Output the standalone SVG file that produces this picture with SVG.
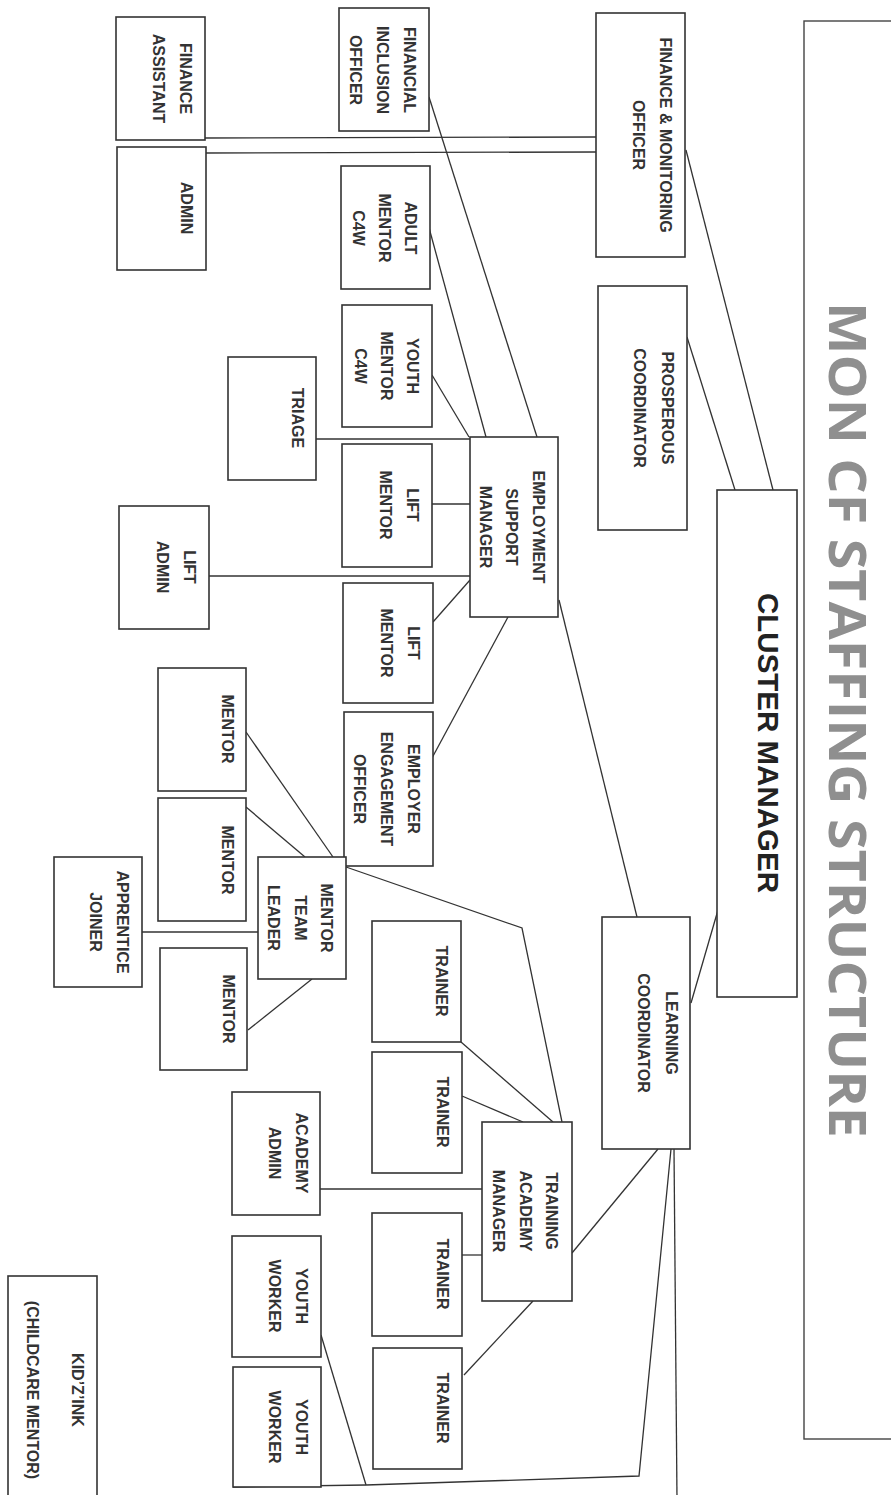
<svg xmlns="http://www.w3.org/2000/svg" width="891" height="1495" viewBox="0 0 891 1495">
<style>
.bx{fill:#fff;stroke:#333;stroke-width:1.6}
.t{font-family:"Liberation Sans",Arial,sans-serif;font-weight:bold;font-size:16px;fill:#333;text-anchor:middle;dominant-baseline:central}
.cm{font-size:30px;fill:#222}
.ttl{font-family:"Open Sans","Liberation Sans",sans-serif;font-weight:700;font-size:52px;fill:#8f8f8f;text-anchor:middle;dominant-baseline:central}
.ln{fill:none;stroke:#333;stroke-width:1.3}
</style>
<rect width="891" height="1495" fill="#fff"/>
<g id="title">
<rect x="804" y="21" width="100" height="1418" fill="#fff" stroke="#444" stroke-width="1.4"/>
<text class="ttl" transform="translate(849,720) rotate(90)" textLength="836" lengthAdjust="spacingAndGlyphs">MON CF STAFFING STRUCTURE</text>
</g>
<g id="connectors">
<line class="ln" x1="596" y1="137" x2="205" y2="138"/>
<line class="ln" x1="596" y1="152" x2="206" y2="153"/>
<line class="ln" x1="686" y1="150" x2="773" y2="490"/>
<line class="ln" x1="687" y1="337" x2="735" y2="490"/>
<line class="ln" x1="429" y1="97" x2="537" y2="437"/>
<line class="ln" x1="428" y1="224" x2="486" y2="437"/>
<line class="ln" x1="432" y1="375" x2="469" y2="437"/>
<line class="ln" x1="316" y1="439" x2="470" y2="439"/>
<line class="ln" x1="432" y1="504" x2="470" y2="504"/>
<line class="ln" x1="209" y1="576" x2="470" y2="576"/>
<line class="ln" x1="433" y1="622" x2="470" y2="580"/>
<line class="ln" x1="508" y1="617" x2="432" y2="758"/>
<line class="ln" x1="559" y1="600" x2="637" y2="917"/>
<line class="ln" x1="718" y1="910" x2="691" y2="1003"/>
<line class="ln" x1="246" y1="732" x2="333" y2="857"/>
<line class="ln" x1="246" y1="807" x2="305" y2="857"/>
<line class="ln" x1="248" y1="1030" x2="312" y2="979"/>
<line class="ln" x1="142" y1="932" x2="258" y2="932"/>
<polyline class="ln" points="346,867 522,928 562,1122"/>
<line class="ln" x1="461" y1="1042" x2="553" y2="1122"/>
<line class="ln" x1="462" y1="1096" x2="523" y2="1122"/>
<line class="ln" x1="658" y1="1149" x2="572" y2="1253"/>
<line class="ln" x1="320" y1="1189" x2="482" y2="1189"/>
<line class="ln" x1="462" y1="1255" x2="482" y2="1255"/>
<line class="ln" x1="533" y1="1301" x2="464" y2="1375"/>
<line class="ln" x1="321" y1="1335" x2="366" y2="1485"/>
<polyline class="ln" points="671,1149 639,1476 366,1485 233,1487"/>
<line class="ln" x1="674" y1="1149" x2="677" y2="1500"/>
</g>
<g id="finance-assistant"><rect class="bx" x="116" y="17" width="89" height="123"/><text class="t" transform="translate(186,78.5) rotate(90)"><tspan x="0" y="0">FINANCE</tspan><tspan x="0" y="27">ASSISTANT</tspan></text></g>
<g id="admin"><rect class="bx" x="117" y="147" width="89" height="123"/><text class="t" transform="translate(187,208) rotate(90)"><tspan x="0" y="0">ADMIN</tspan></text></g>
<g id="financial-inclusion-officer"><rect class="bx" x="339" y="8" width="90" height="123"/><text class="t" transform="translate(410,70) rotate(90)"><tspan x="0" y="0">FINANCIAL</tspan><tspan x="0" y="27">INCLUSION</tspan><tspan x="0" y="54">OFFICER</tspan></text></g>
<g id="adult-mentor-c4w"><rect class="bx" x="341" y="166" width="89" height="123"/><text class="t" transform="translate(411,228) rotate(90)"><tspan x="0" y="0">ADULT</tspan><tspan x="0" y="26">MENTOR</tspan><tspan x="0" y="52">C4W</tspan></text></g>
<g id="finance-monitoring-officer"><rect class="bx" x="596" y="13" width="89" height="244"/><text class="t" transform="translate(666,135) rotate(90)"><tspan x="0" y="0">FINANCE &amp; MONITORING</tspan><tspan x="0" y="27">OFFICER</tspan></text></g>
<g id="prosperous-coordinator"><rect class="bx" x="598" y="286" width="89" height="244"/><text class="t" transform="translate(668,408) rotate(90)"><tspan x="0" y="0">PROSPEROUS</tspan><tspan x="0" y="28">COORDINATOR</tspan></text></g>
<g id="cluster-manager"><rect class="bx" x="717" y="490" width="80" height="507"/><text class="t cm" transform="translate(768,743) rotate(90)" textLength="300" lengthAdjust="spacingAndGlyphs">CLUSTER MANAGER</text></g>
<g id="youth-mentor-c4w"><rect class="bx" x="342" y="305" width="90" height="122"/><text class="t" transform="translate(413,366) rotate(90)"><tspan x="0" y="0">YOUTH</tspan><tspan x="0" y="26">MENTOR</tspan><tspan x="0" y="52">C4W</tspan></text></g>
<g id="triage"><rect class="bx" x="228" y="357" width="88" height="123"/><text class="t" transform="translate(298,418) rotate(90)"><tspan x="0" y="0">TRIAGE</tspan></text></g>
<g id="employment-support-manager"><rect class="bx" x="470" y="437" width="88" height="180"/><text class="t" transform="translate(539,527) rotate(90)"><tspan x="0" y="0">EMPLOYMENT</tspan><tspan x="0" y="27">SUPPORT</tspan><tspan x="0" y="53">MANAGER</tspan></text></g>
<g id="lift-mentor-1"><rect class="bx" x="342" y="444" width="90" height="123"/><text class="t" transform="translate(413,505) rotate(90)"><tspan x="0" y="0">LIFT</tspan><tspan x="0" y="27">MENTOR</tspan></text></g>
<g id="lift-admin"><rect class="bx" x="119" y="506" width="90" height="123"/><text class="t" transform="translate(190,567) rotate(90)"><tspan x="0" y="0">LIFT</tspan><tspan x="0" y="27">ADMIN</tspan></text></g>
<g id="lift-mentor-2"><rect class="bx" x="343" y="583" width="90" height="120"/><text class="t" transform="translate(414,643) rotate(90)"><tspan x="0" y="0">LIFT</tspan><tspan x="0" y="27">MENTOR</tspan></text></g>
<g id="employer-engagement-officer"><rect class="bx" x="344" y="712" width="89" height="154"/><text class="t" transform="translate(414,789) rotate(90)"><tspan x="0" y="0">EMPLOYER</tspan><tspan x="0" y="27">ENGAGEMENT</tspan><tspan x="0" y="54">OFFICER</tspan></text></g>
<g id="mentor-1"><rect class="bx" x="158" y="668" width="88" height="123"/><text class="t" transform="translate(228,729) rotate(90)"><tspan x="0" y="0">MENTOR</tspan></text></g>
<g id="mentor-2"><rect class="bx" x="158" y="798" width="88" height="123"/><text class="t" transform="translate(228,860) rotate(90)"><tspan x="0" y="0">MENTOR</tspan></text></g>
<g id="mentor-3"><rect class="bx" x="160" y="948" width="87" height="122"/><text class="t" transform="translate(229,1009) rotate(90)"><tspan x="0" y="0">MENTOR</tspan></text></g>
<g id="apprentice-joiner"><rect class="bx" x="54" y="857" width="88" height="130"/><text class="t" transform="translate(123,922) rotate(90)"><tspan x="0" y="0">APPRENTICE</tspan><tspan x="0" y="27">JOINER</tspan></text></g>
<g id="mentor-team-leader"><rect class="bx" x="258" y="857" width="88" height="122"/><text class="t" transform="translate(327,918) rotate(90)"><tspan x="0" y="0">MENTOR</tspan><tspan x="0" y="26">TEAM</tspan><tspan x="0" y="53">LEADER</tspan></text></g>
<g id="learning-coordinator"><rect class="bx" x="602" y="917" width="88" height="232"/><text class="t" transform="translate(672,1033) rotate(90)"><tspan x="0" y="0">LEARNING</tspan><tspan x="0" y="28">COORDINATOR</tspan></text></g>
<g id="trainer-1"><rect class="bx" x="372" y="921" width="89" height="121"/><text class="t" transform="translate(442,981) rotate(90)"><tspan x="0" y="0">TRAINER</tspan></text></g>
<g id="trainer-2"><rect class="bx" x="372" y="1052" width="90" height="121"/><text class="t" transform="translate(443,1112) rotate(90)"><tspan x="0" y="0">TRAINER</tspan></text></g>
<g id="training-academy-manager"><rect class="bx" x="482" y="1122" width="90" height="179"/><text class="t" transform="translate(552,1211) rotate(90)"><tspan x="0" y="0">TRAINING</tspan><tspan x="0" y="26">ACADEMY</tspan><tspan x="0" y="53">MANAGER</tspan></text></g>
<g id="academy-admin"><rect class="bx" x="232" y="1092" width="88" height="123"/><text class="t" transform="translate(302,1153) rotate(90)"><tspan x="0" y="0">ACADEMY</tspan><tspan x="0" y="27">ADMIN</tspan></text></g>
<g id="trainer-3"><rect class="bx" x="372" y="1213" width="90" height="123"/><text class="t" transform="translate(443,1274) rotate(90)"><tspan x="0" y="0">TRAINER</tspan></text></g>
<g id="trainer-4"><rect class="bx" x="373" y="1348" width="89" height="121"/><text class="t" transform="translate(443,1408) rotate(90)"><tspan x="0" y="0">TRAINER</tspan></text></g>
<g id="youth-worker-1"><rect class="bx" x="232" y="1236" width="89" height="121"/><text class="t" transform="translate(302,1296) rotate(90)"><tspan x="0" y="0">YOUTH</tspan><tspan x="0" y="27">WORKER</tspan></text></g>
<g id="youth-worker-2"><rect class="bx" x="233" y="1367" width="88" height="120"/><text class="t" transform="translate(302,1427) rotate(90)"><tspan x="0" y="0">YOUTH</tspan><tspan x="0" y="27">WORKER</tspan></text></g>
<g id="kidzink"><rect class="bx" x="8" y="1276" width="89" height="230"/><text class="t" transform="translate(78,1390) rotate(90)"><tspan x="0" y="0">KID’Z’INK</tspan><tspan x="0" y="45">(CHILDCARE MENTOR)</tspan></text></g>
</svg>
